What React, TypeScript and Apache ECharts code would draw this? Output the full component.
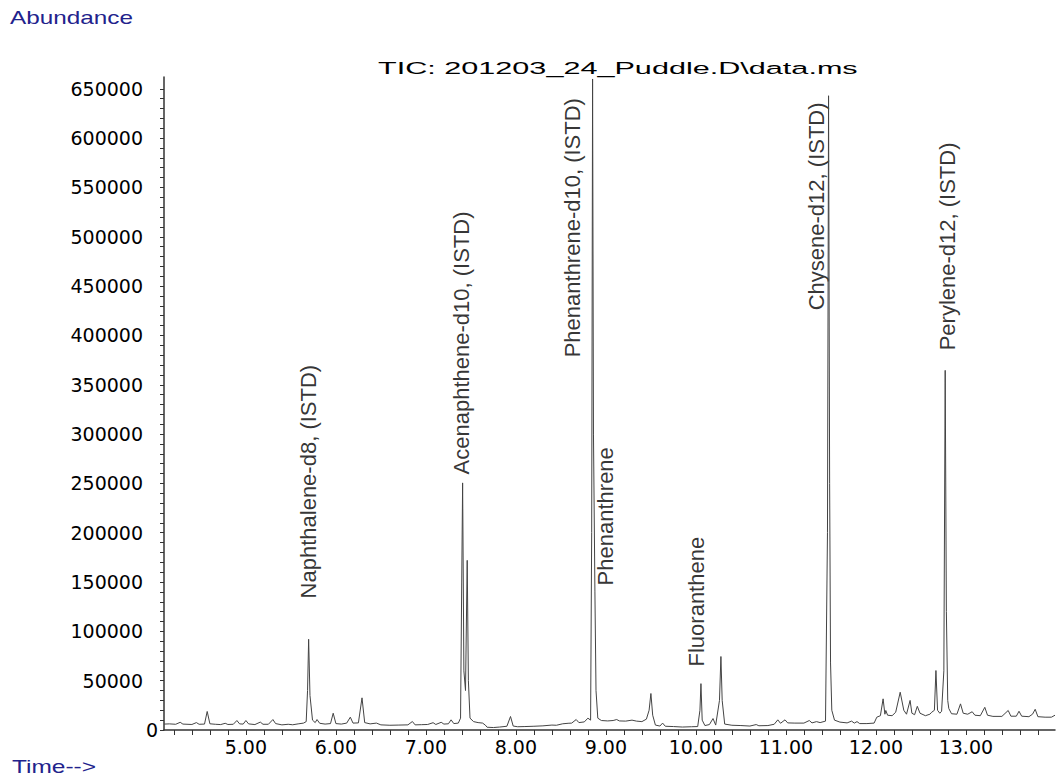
import { useEffect, useRef } from "react";
import * as echarts from "echarts";

// Retention time (min) / abundance points
const TRACE_TIMES: number[] = [
  4.09, 4.15, 4.22, 4.27, 4.3, 4.4, 4.45, 4.48, 4.54, 4.57, 4.6, 4.66, 4.72, 4.77, 4.8, 4.86, 4.9, 4.93, 4.97, 5.0,
  5.03, 5.1, 5.16, 5.19, 5.25, 5.3, 5.33, 5.4, 5.47, 5.52, 5.58, 5.64, 5.67, 5.685, 5.697, 5.712, 5.74, 5.77, 5.79, 5.82,
  5.88, 5.94, 5.97, 6.0, 6.06, 6.12, 6.16, 6.19, 6.25, 6.29, 6.32, 6.38, 6.45, 6.5, 6.6, 6.7, 6.8, 6.85, 6.88, 6.95,
  7.02, 7.08, 7.11, 7.17, 7.2, 7.25, 7.28, 7.31, 7.36, 7.385, 7.398, 7.408, 7.422, 7.44, 7.459, 7.472, 7.49, 7.53, 7.58, 7.63,
  7.66, 7.68, 7.75, 7.82, 7.9, 7.94, 7.97, 8.02, 8.1, 8.2, 8.3, 8.4, 8.45, 8.52, 8.58, 8.62, 8.67, 8.7, 8.76, 8.8,
  8.83, 8.842, 8.852, 8.862, 8.878, 8.89, 8.91, 8.95, 9.02, 9.08, 9.12, 9.15, 9.22, 9.29, 9.34, 9.4, 9.45, 9.48, 9.5, 9.52,
  9.55, 9.6, 9.63, 9.66, 9.75, 9.85, 9.95, 10.02, 10.045, 10.056, 10.07, 10.1, 10.15, 10.19, 10.22, 10.262, 10.278, 10.292, 10.32, 10.4,
  10.5, 10.6, 10.67, 10.7, 10.8, 10.87, 10.91, 10.94, 10.99, 11.02, 11.1, 11.2, 11.26, 11.29, 11.34, 11.38, 11.44, 11.462, 11.474, 11.486,
  11.496, 11.51, 11.54, 11.6, 11.68, 11.73, 11.76, 11.79, 11.82, 11.9, 11.98, 12.01, 12.05, 12.08, 12.1, 12.11, 12.13, 12.18, 12.22, 12.27,
  12.31, 12.34, 12.38, 12.4, 12.43, 12.46, 12.49, 12.55, 12.6, 12.62, 12.65, 12.667, 12.685, 12.71, 12.73, 12.755, 12.77, 12.783, 12.798, 12.81,
  12.84, 12.9, 12.94, 12.97, 13.02, 13.07, 13.1, 13.16, 13.21, 13.24, 13.3, 13.4, 13.47, 13.5, 13.56, 13.59, 13.62, 13.7, 13.74, 13.77,
  13.8, 13.88, 13.95, 13.99,
];
const TRACE_VALUES: number[] = [
  6000, 6200, 5800, 7800, 6000, 5600, 7500, 5800, 6000, 18800, 6300, 5800, 5500, 6800, 5600, 5800, 9600, 6200, 6000, 9600,
  6200, 5500, 8000, 5800, 5800, 10600, 6500, 5200, 5800, 5300, 6200, 7000, 8500, 40000, 92000, 35000, 10000, 7500, 10600, 6800,
  6000, 6500, 17000, 6500, 6000, 7000, 13000, 7000, 7200, 32600, 7500, 6200, 7000, 5200, 4800, 5000, 5200, 8600, 5200, 5400,
  5600, 7400, 5600, 7800, 6000, 6300, 10300, 6500, 7000, 12000, 150000, 250500, 60000, 40000, 172000, 50000, 12000, 8500, 7500, 7000,
  5000, 2800, 2500, 3000, 3800, 13700, 4000, 3300, 3500, 3800, 4200, 5000, 4800, 6300, 6800, 7000, 10600, 7500, 8200, 12000,
  10000, 200000, 660000, 300000, 140000, 40000, 12000, 9600, 9200, 9600, 10600, 9200, 9000, 10000, 9000, 8500, 11000, 20000, 37000, 15000,
  5000, 4000, 7000, 3800, 3500, 3000, 3300, 3500, 20000, 47000, 10000, 4500, 5500, 11600, 5000, 30000, 74500, 30000, 6000, 4800,
  4500, 4000, 5500, 4300, 4500, 5800, 10300, 6800, 10300, 7200, 7000, 7000, 9600, 7200, 8500, 7500, 9000, 200000, 643000, 250000,
  68000, 20000, 10000, 8000, 7200, 9000, 7000, 8500, 6500, 6500, 7000, 13000, 14500, 31600, 16000, 19800, 15000, 14500, 18000, 38300,
  20000, 16000, 30000, 17000, 15500, 24000, 17000, 14500, 16000, 18000, 20000, 60300, 20000, 17000, 19000, 60000, 364600, 120000, 30000, 21800,
  16500, 16000, 26500, 17000, 16000, 18500, 15000, 14500, 23000, 15000, 13800, 13800, 19800, 14000, 14000, 19000, 14000, 13500, 16000, 21000,
  13500, 13000, 13000, 15000,
];

// Peak annotations: text, time of label, abundance at label's lower end
const PEAK_NAMES: string[] = [
  "Naphthalene-d8, (ISTD)",
  "Acenaphthene-d10, (ISTD)",
  "Phenanthrene-d10, (ISTD)",
  "Phenanthrene",
  "Fluoranthene",
  "Chysene-d12, (ISTD)",
  "Perylene-d12, (ISTD)",
];
const PEAK_LABEL_TIMES: number[] = [5.69, 7.39, 8.63, 8.99, 10.01, 11.34, 12.79];
const PEAK_LABEL_HEIGHTS: number[] = [133400, 259100, 377800, 146600, 64400, 425500, 384900];

const X_LABELS: number[] = [5, 6, 7, 8, 9, 10, 11, 12, 13];
const Y_LABELS: number[] = [
  50000, 100000, 150000, 200000, 250000, 300000, 350000, 400000, 450000, 500000, 550000, 600000, 650000,
];
const Y_ZERO_LABEL: number[] = [0];

const X_TICKS: number[] = [];
for (let k = 42; k <= 138; k += 2) X_TICKS.push(k / 10);
const Y_TICKS: number[] = [];
for (let k = 0; k <= 65; k += 1) Y_TICKS.push(k * 10000);

const X_MIN = 4.09;
const X_MAX = 13.99;
const Y_MAX = 662000;

const BLUE = "#22228c";
const TICK_FONT = '"DejaVu Sans", sans-serif';
const ARIAL = '"Liberation Sans", Arial, sans-serif';

export default function App() {
  const ref = useRef<HTMLDivElement>(null);

  useEffect(() => {
    if (!ref.current) return;
    const chart = echarts.init(ref.current, null, { renderer: "svg" });
    const trace = TRACE_TIMES.map((t, i) => [t, TRACE_VALUES[i]]);
    const labels = PEAK_LABEL_TIMES.map((t, i) => [t, PEAK_LABEL_HEIGHTS[i], PEAK_NAMES[i]]);
    const plain = (v: number) => String(Math.round(v));

    chart.setOption({
      animation: false,
      backgroundColor: "#ffffff",
      grid: { left: 164, right: 2, top: 77, bottom: 48, containLabel: false },
      xAxis: {
        type: "value",
        min: X_MIN,
        max: X_MAX,
        axisLine: { show: true, lineStyle: { color: "#333", width: 1.5 } },
        axisTick: {
          show: true,
          inside: false,
          length: 5,
          customValues: X_TICKS,
          lineStyle: { color: "#333", width: 1 },
        },
        axisLabel: {
          show: true,
          customValues: X_LABELS,
          formatter: (v: number) => v.toFixed(2),
          fontFamily: TICK_FONT,
          fontSize: 19,
          color: "#000",
          margin: 7,
        },
        splitLine: { show: false },
      },
      yAxis: [
        {
          type: "value",
          min: 0,
          max: Y_MAX,
          axisLine: { show: true, lineStyle: { color: "#333", width: 1.5 } },
          axisTick: {
            show: true,
            inside: false,
            length: 4,
            customValues: Y_TICKS,
            lineStyle: { color: "#333", width: 1 },
          },
          axisLabel: {
            show: true,
            customValues: Y_LABELS,
            formatter: plain,
            fontFamily: TICK_FONT,
            fontSize: 19,
            color: "#000",
            margin: 21,
          },
          splitLine: { show: false },
        },
        {
          type: "value",
          position: "left",
          min: 0,
          max: Y_MAX,
          axisLine: { show: false },
          axisTick: { show: false },
          axisLabel: {
            show: true,
            customValues: Y_ZERO_LABEL,
            formatter: plain,
            fontFamily: TICK_FONT,
            fontSize: 19,
            color: "#000",
            margin: 6,
          },
          splitLine: { show: false },
        },
      ],
      series: [
        {
          type: "line",
          data: trace,
          showSymbol: false,
          symbol: "none",
          lineStyle: { color: "#444", width: 1 },
          clip: true,
          silent: true,
        },
        {
          type: "scatter",
          data: labels,
          symbolSize: 1,
          itemStyle: { color: "rgba(0,0,0,0)" },
          silent: true,
          label: {
            show: true,
            position: "inside",
            rotate: 90,
            align: "left",
            verticalAlign: "middle",
            formatter: (p: any) => p.data[2],
            fontFamily: ARIAL,
            fontSize: 22,
            color: "#000",
          },
        },
      ],
      graphic: [
        {
          type: "text",
          x: 10,
          y: 18.5,
          scaleX: 1.35,
          style: { text: "Abundance", font: `18px ${ARIAL}`, fill: BLUE, verticalAlign: "middle" },
        },
        {
          type: "text",
          x: 378,
          y: 68,
          scaleX: 1.8,
          style: {
            text: "TIC: 201203_24_Puddle.D\\data.ms",
            font: `17px ${ARIAL}`,
            fill: "#000",
            verticalAlign: "middle",
          },
        },
        {
          type: "text",
          x: 12,
          y: 767,
          scaleX: 1.36,
          style: { text: "Time-->", font: `18px ${ARIAL}`, fill: BLUE, verticalAlign: "middle" },
        },
      ],
    });

    return () => chart.dispose();
  }, []);

  return (
    <div
      ref={ref}
      style={{ position: "absolute", left: 0, top: 0, width: 1057, height: 778 }}
    />
  );
}
